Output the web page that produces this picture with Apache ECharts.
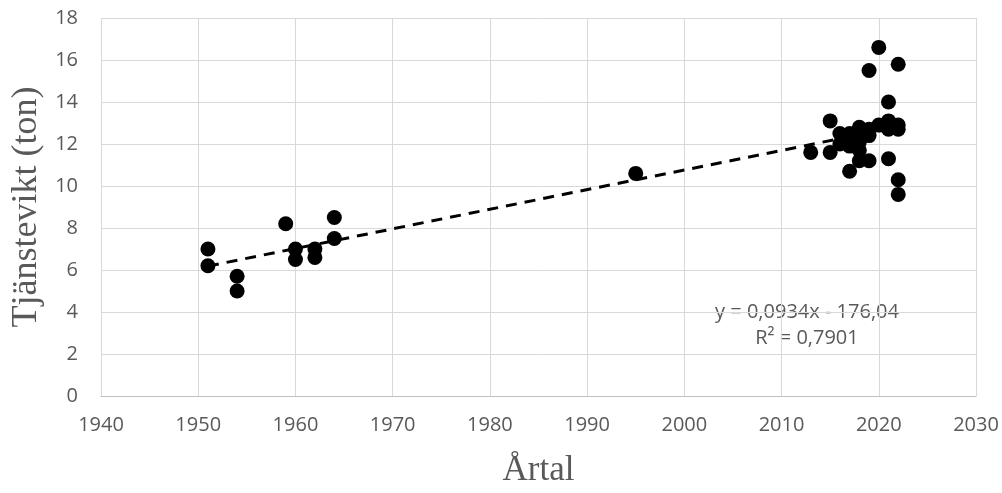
<!DOCTYPE html>
<html>
<head>
<meta charset="utf-8">
<script src="https://cdn.jsdelivr.net/npm/echarts@6/dist/echarts.min.js"></script>
<style>html,body{margin:0;padding:0;background:#fff}#c{width:1002px;height:493px}</style>
</head>
<body>
<div id="c"></div>
<script>
const years = [1951,1951,1954,1954,1959,1960,1960,1962,1962,1964,1964,1995,
  2013,2015,2015,2016,2016,2017,2017,2017,2017,2018,2018,2018,2018,2018,
  2019,2019,2019,2019,2020,2020,2021,2021,2021,2021,2022,2022,2022,2022,2022];
const weights = [7.0,6.2,5.7,5.0,8.2,7.0,6.5,7.0,6.6,8.5,7.5,10.6,
  11.6,13.1,11.6,12.5,12.0,12.5,12.2,11.9,10.7,12.8,12.5,12.1,11.7,11.2,
  15.5,12.7,12.4,11.2,16.6,12.9,14.0,13.1,12.7,11.3,15.8,12.9,12.7,10.3,9.6];
const trendSlope = 0.0934;
const trendIntercept = -176.04;
const eqText = 'y = 0,0934x - 176,04';
const r2Text = 'R² = 0,7901';

const pts = years.map((y,i)=>[y,weights[i]]);
const xMin = Math.min(...years), xMax = Math.max(...years);
const trend = [[xMin, trendSlope*xMin+trendIntercept],[xMax, trendSlope*xMax+trendIntercept]];

const chart = echarts.init(document.getElementById('c'));
const lblColor = '#595959';
chart.setOption({
  animation:false,
  grid:{left:101,right:26,top:18,bottom:93},
  xAxis:{type:'value',min:1940,max:2030,interval:10,
    name:'Årtal',nameLocation:'middle',nameGap:57,
    nameTextStyle:{fontFamily:'Liberation Serif',fontSize:35,color:lblColor},
    axisLine:{show:true,lineStyle:{color:'#bfbfbf',width:1}},
    axisTick:{show:false},
    axisLabel:{color:lblColor,fontFamily:'Open Sans',fontSize:20,margin:19,formatter:v=>String(v)},
    splitLine:{show:true,lineStyle:{color:'#d9d9d9',width:1}}},
  yAxis:{type:'value',min:0,max:18,interval:2,
    name:'Tjänstevikt (ton)',nameLocation:'middle',nameGap:54,
    nameTextStyle:{fontFamily:'Liberation Serif',fontSize:36,color:lblColor},
    axisLine:{show:false},axisTick:{show:false},
    axisLabel:{color:lblColor,fontFamily:'Open Sans',fontSize:20,margin:23},
    splitLine:{show:true,lineStyle:{color:'#d9d9d9',width:1}}},
  series:[
    {type:'scatter',data:pts,symbol:'circle',symbolSize:15,itemStyle:{color:'#000',opacity:1},z:3},
    {type:'line',data:trend,symbol:'none',lineStyle:{color:'#000',width:3,type:[11,8]},z:2}
  ],
  graphic:[
    {type:'text',x:807,y:312,style:{text:eqText,fill:lblColor,font:'20px "Open Sans"',textAlign:'center',textVerticalAlign:'middle'}},
    {type:'text',x:807,y:338,style:{text:r2Text,fill:lblColor,font:'20px "Open Sans"',textAlign:'center',textVerticalAlign:'middle'}}
  ]
});
</script>
</body>
</html>
